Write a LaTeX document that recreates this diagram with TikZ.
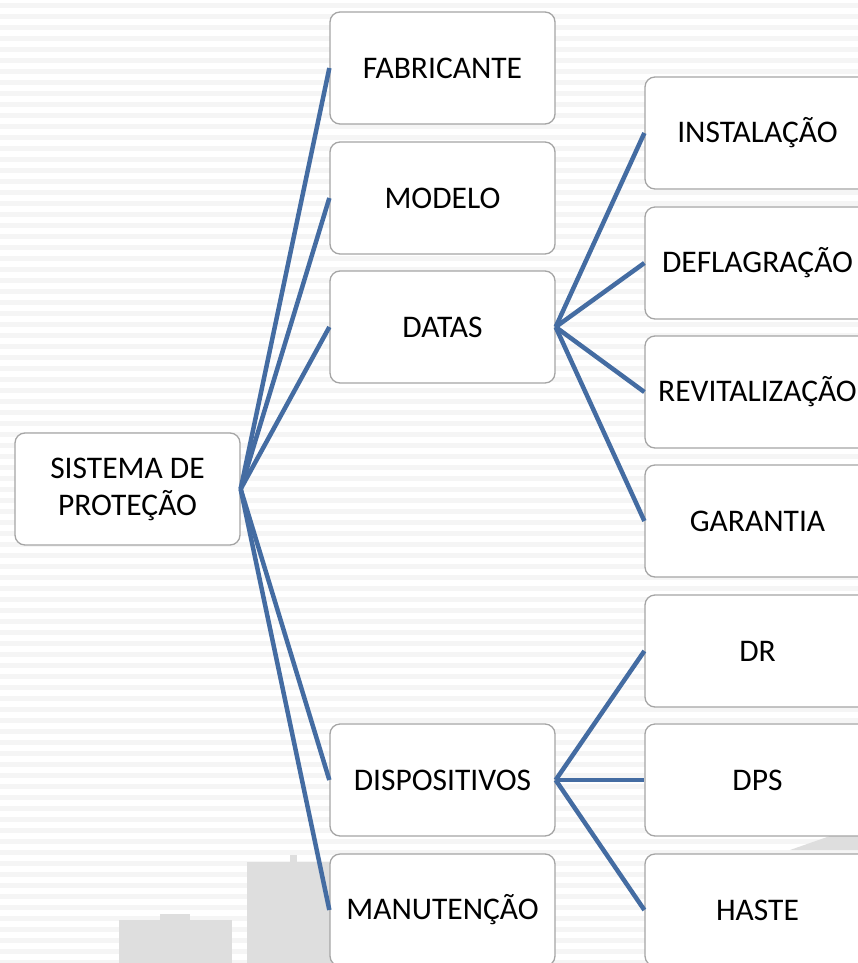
\documentclass[tikz,border=0pt]{standalone}
\usepackage{fontspec}
\setmainfont{Carlito}
\definecolor{linkblue}{RGB}{68,108,162}
\definecolor{boxedge}{RGB}{165,165,165}
\definecolor{stripe}{RGB}{245,245,245}
\definecolor{blockgray}{RGB}{222,222,222}
\tikzset{
  box/.style={draw=boxedge, line width=1.3pt, fill=white, rounded corners=10pt,
    minimum width=225pt, minimum height=112pt, inner sep=0pt,
    font=\fontsize{31.5}{37}\selectfont, align=center, text=black},
  link/.style={draw=linkblue, line width=4.5pt}
}
\begin{document}
\begin{tikzpicture}[x=1pt,y=-1pt]
\useasboundingbox (0,0) rectangle (858,963);
\clip (0,0) rectangle (858,963);
\fill[white] (0,0) rectangle (858,963);
% faint stripes
\foreach \k in {0,...,88} {
  \fill[stripe] (0,{\k*11+3}) rectangle (858,{\k*11+8});
}
% gray blocks in background
\fill[blockgray] (119,920) rectangle (232,963);
\fill[blockgray] (160,914) rectangle (190,920);
\fill[blockgray] (247,862) rectangle (332,963);
\fill[blockgray] (290,855) rectangle (297,862);
\fill[blockgray] (790,850) -- (830,836) -- (858,836) -- (858,850) -- cycle;

% nodes
\node[box] (root) at (127.5,489) {SISTEMA DE\\PROTEÇÃO};
\node[box] (fab) at (442.5,68) {FABRICANTE};
\node[box] (mod) at (442.5,198) {MODELO};
\node[box] (dat) at (442.5,327) {DATAS};
\node[box] (dis) at (442.5,780) {DISPOSITIVOS};
\node[box] (man) at (442.5,910) {MANUTENÇÃO};
\node[box] (ins) at (757.5,133) {INSTALAÇÃO};
\node[box] (def) at (757.5,263) {DEFLAGRAÇÃO};
\node[box] (rev) at (757.5,392) {REVITALIZAÇÃO};
\node[box] (gar) at (757.5,521) {GARANTIA};
\node[box] (dr) at (757.5,651) {DR};
\node[box] (dps) at (757.5,780) {DPS};
\node[box] (has) at (757.5,910) {HASTE};

% connectors
\foreach \t in {fab,mod,dat,dis,man} { \draw[link] (root.east) -- (\t.west); }
\foreach \t in {ins,def,rev,gar} { \draw[link] (dat.east) -- (\t.west); }
\foreach \t in {dr,dps,has} { \draw[link] (dis.east) -- (\t.west); }
\end{tikzpicture}
\end{document}
